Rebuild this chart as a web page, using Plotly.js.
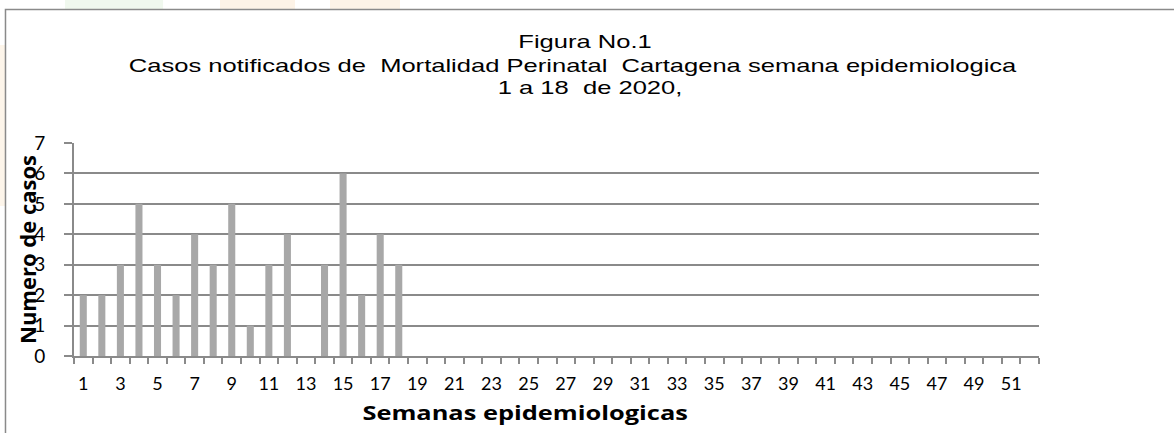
<!DOCTYPE html>
<html>
<head>
<meta charset="utf-8">
<script src="https://cdn.plot.ly/plotly-3.0.1.min.js"></script>
<style>
html,body{margin:0;padding:0;background:#fff;}
#chart{width:1174px;height:433px;}
#chart g.annotation[data-index="0"] text,
#chart g.annotation[data-index="1"] text,
#chart g.annotation[data-index="2"] text{transform-box:fill-box;transform-origin:center;transform:scaleX(1.42);}
#chart g.annotation[data-index="4"] text{transform-box:fill-box;transform-origin:center;transform:scaleX(1.27);}
</style>
</head>
<body>
<div id="chart"></div>
<script>
var weeks = [1,2,3,4,5,6,7,8,9,10,11,12,13,14,15,16,17,18,19,20,21,22,23,24,25,26,
             27,28,29,30,31,32,33,34,35,36,37,38,39,40,41,42,43,44,45,46,47,48,49,50,51,52];
var cases = [2,2,3,5,3,2,4,3,5,1,3,4,0,3,6,2,4,3,0,0,0,0,0,0,0,0,
             0,0,0,0,0,0,0,0,0,0,0,0,0,0,0,0,0,0,0,0,0,0,0,0,0,0];
var tickWeeks = [1,3,5,7,9,11,13,15,17,19,21,23,25,27,29,31,33,35,37,39,41,43,45,47,49,51];
var tickLabels = ['1','3','5','7','9','11','13','15','17','19','21','23','25','27','29','31','33','35','37','39','41','43','45','47','49','51'];
var yTicks = [0,1,2,3,4,5,6,7];

var titleLines = ['Figura No.1',
  'Casos notificados de&nbsp; Mortalidad Perinatal&nbsp; Cartagena semana epidemiologica',
  '1 a 18&nbsp; de 2020,'];
var yTitle = 'Numero de casos';
var xTitle = 'Semanas epidemiologicas';

var grey = '#8a8a8a';
var titleFont = {family: '"Liberation Sans", Arial, sans-serif', size: 18, color: '#000'};

var trace = {
  type: 'bar', x: weeks, y: cases, width: 0.38,
  marker: {color: '#a8a8a8'},
  hoverinfo: 'x+y'
};

var layout = {
  width: 1174, height: 433,
  margin: {l: 74, r: 135, t: 143, b: 77, pad: 0},
  paper_bgcolor: '#ffffff', plot_bgcolor: '#ffffff',
  showlegend: false,
  font: {family: 'Lato, "Open Sans", sans-serif', color: '#000'},
  xaxis: {
    range: [0.5, 52.5], fixedrange: true,
    tickmode: 'array', tickvals: tickWeeks, ticktext: tickLabels,
    ticks: '', ticklabelstandoff: 10,
    tickfont: {size: 18, family: 'Lato, sans-serif', color: '#000'},
    showgrid: false, zeroline: false,
    showline: true, linecolor: grey, linewidth: 2,
    minor: {tickmode: 'linear', tick0: 0.5, dtick: 1, ticks: 'outside', ticklen: 6, tickwidth: 2, tickcolor: grey, showgrid: false}
  },
  yaxis: {
    range: [0, 7], fixedrange: true,
    tickmode: 'array', tickvals: yTicks,
    ticks: 'outside', ticklen: 8, tickwidth: 2, tickcolor: grey,
    ticklabelstandoff: 15,
    tickfont: {size: 19, family: 'Lato, sans-serif', color: '#000'},
    showgrid: true, gridcolor: grey, gridwidth: 2,
    zeroline: false,
    showline: true, linecolor: grey, linewidth: 2
  },
  shapes: [
    {type: 'rect', xref: 'paper', yref: 'paper', x0: -0.0767, x1: 0.0, y0: 0.7042, y1: 1.4601,
     line: {width: 0}, fillcolor: '#fdf5ea', layer: 'below'},
    {type: 'rect', xref: 'paper', yref: 'paper', x0: -0.0093, x1: 0.0923, y0: 1.6268, y1: 1.6714,
     line: {width: 0}, fillcolor: '#f0f8ee', layer: 'below'},
    {type: 'rect', xref: 'paper', yref: 'paper', x0: 0.1513, x1: 0.2290, y0: 1.6268, y1: 1.6714,
     line: {width: 0}, fillcolor: '#fdf3e7', layer: 'below'},
    {type: 'rect', xref: 'paper', yref: 'paper', x0: 0.2653, x1: 0.3378, y0: 1.6268, y1: 1.6714,
     line: {width: 0}, fillcolor: '#fdf3e7', layer: 'below'},
    {type: 'rect', xref: 'paper', yref: 'paper', x0: -0.0710, x1: 1.3, y0: -0.5, y1: 1.6268,
     line: {color: '#8a8a8a', width: 1.5}, fillcolor: '#ffffff', layer: 'below'}
  ],
  annotations: [
    {text: titleLines[0], xref: 'paper', yref: 'paper', x: 0.5295, y: 1.4742,
     xanchor: 'center', yanchor: 'middle', showarrow: false, font: titleFont},
    {text: titleLines[1], xref: 'paper', yref: 'paper', x: 0.5171, y: 1.3615,
     xanchor: 'center', yanchor: 'middle', showarrow: false, font: titleFont},
    {text: titleLines[2], xref: 'paper', yref: 'paper', x: 0.5347, y: 1.2582,
     xanchor: 'center', yanchor: 'middle', showarrow: false, font: titleFont},
    {text: '<b>' + yTitle + '</b>', xref: 'paper', yref: 'paper', x: -0.0487, y: 0.4977,
     xanchor: 'center', yanchor: 'middle', textangle: -90, showarrow: false,
     font: {size: 22, family: '"Open Sans", Lato, sans-serif', color: '#000'}},
    {text: '<b>' + xTitle + '</b>', xref: 'paper', yref: 'paper', x: 0.4674, y: -0.2676,
     xanchor: 'center', yanchor: 'middle', showarrow: false,
     font: {size: 20, family: '"Open Sans", Lato, sans-serif', color: '#000'}}
  ]
};

Plotly.newPlot('chart', [trace], layout, {displayModeBar: false, responsive: false});
</script>
</body>
</html>
